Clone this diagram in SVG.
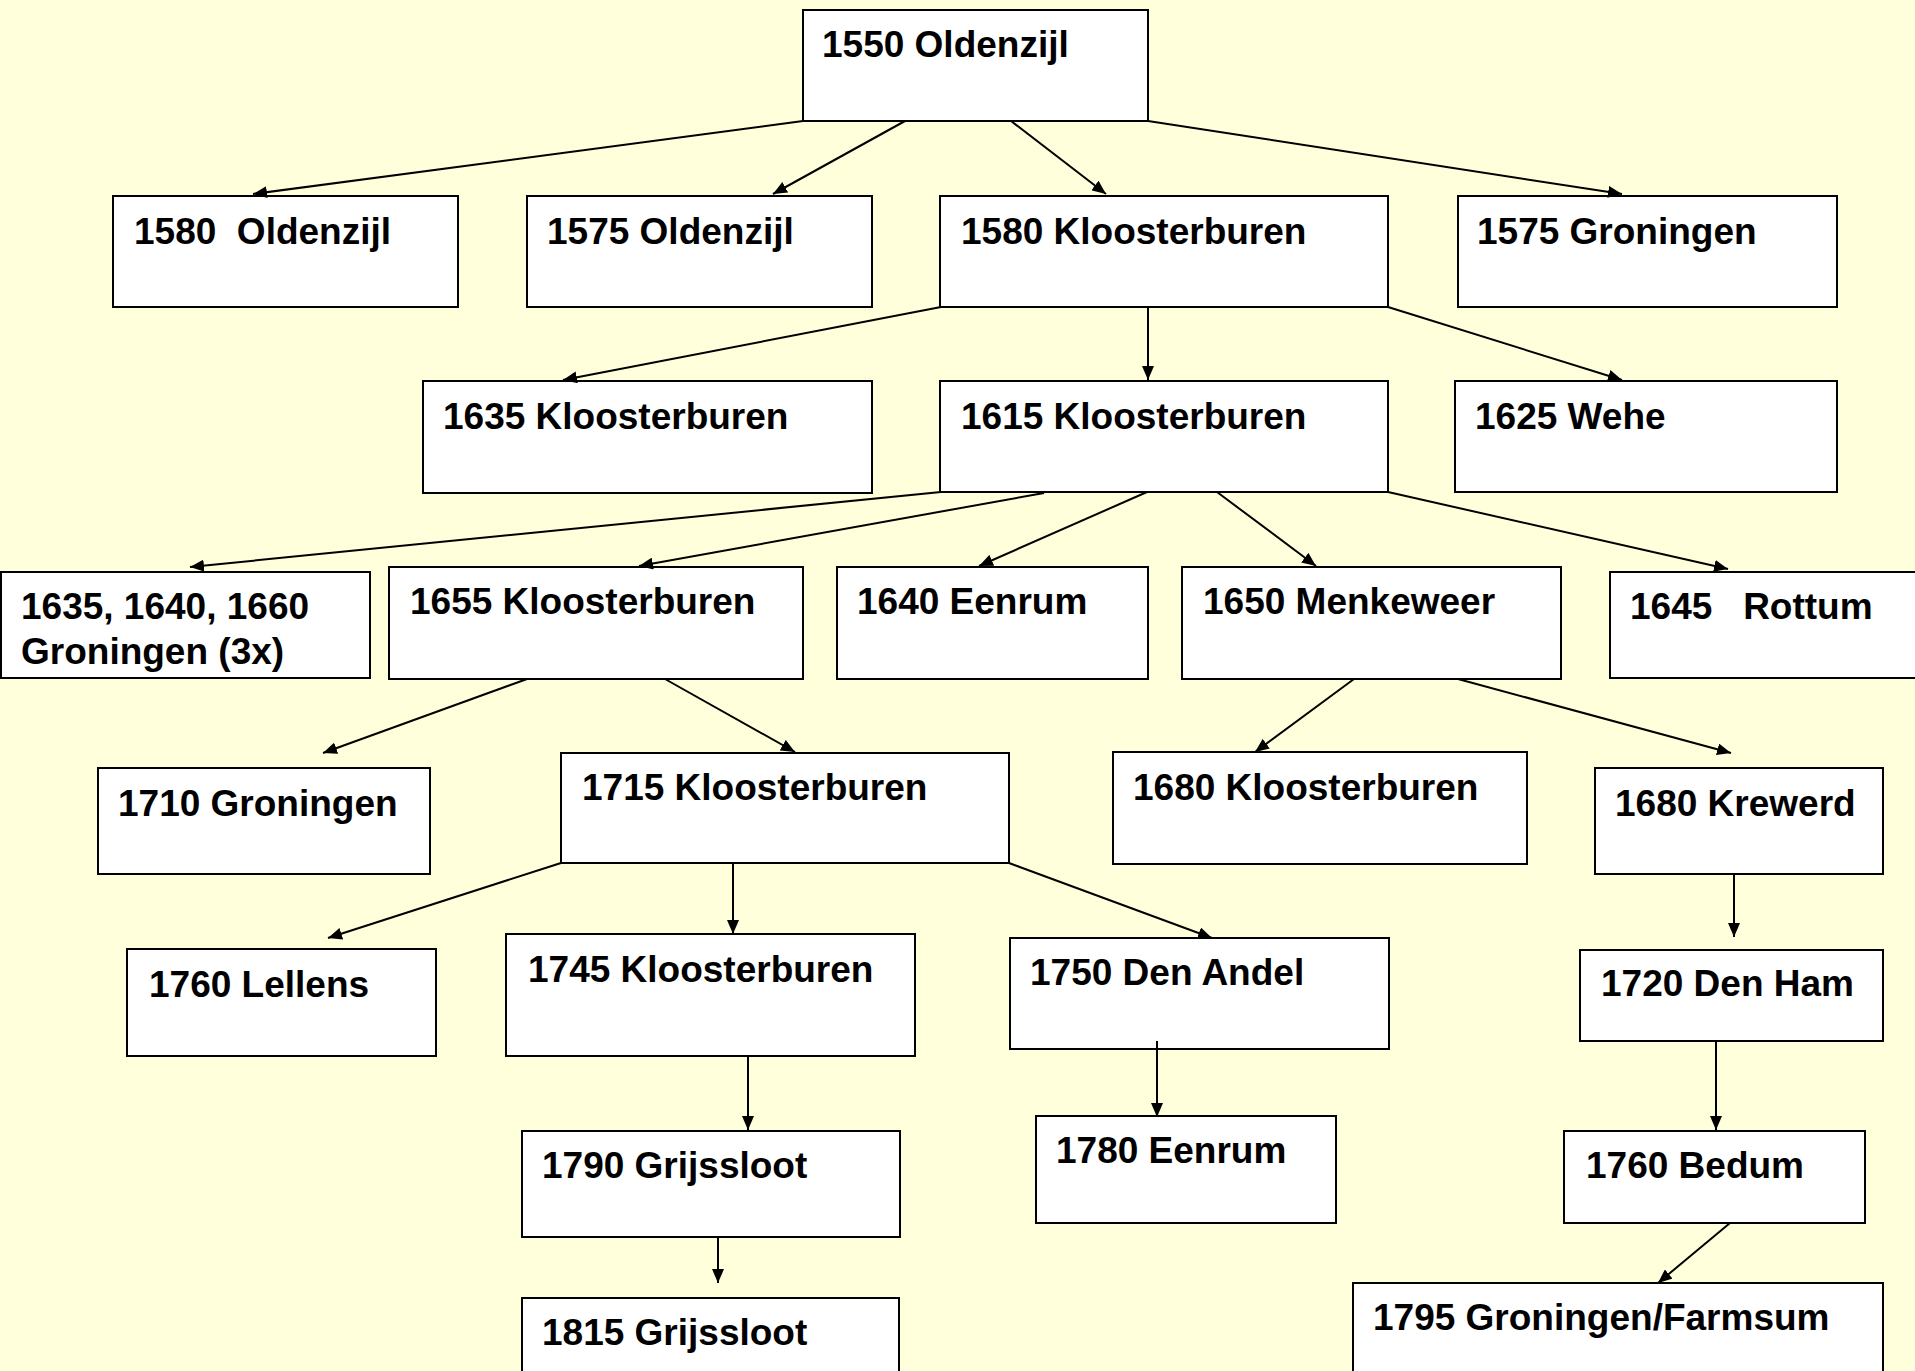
<svg xmlns="http://www.w3.org/2000/svg" width="1915" height="1371" viewBox="0 0 1915 1371">
<defs>
<style>
.box{fill:#fff;stroke:#000;stroke-width:2}
.t{font-family:"Liberation Sans",Arial,sans-serif;font-weight:bold;font-size:37px;fill:#000;white-space:pre}
.c{stroke:#000;stroke-width:2;fill:none;marker-end:url(#ah)}
</style>
<marker id="ah" markerUnits="userSpaceOnUse" markerWidth="14" markerHeight="12" viewBox="0 0 14 12" refX="14" refY="6" orient="auto">
<path d="M0,0 L14,6 L0,12 z" fill="#000"/>
</marker>
</defs>
<rect width="1915" height="1371" fill="#FFFFDB"/>
<g id="nodes">
<g id="n1550"><rect class="box" x="803" y="10" width="345" height="111"/><text class="t" x="822" y="56.5">1550 Oldenzijl</text></g>
<g id="n1580o"><rect class="box" x="113" y="196" width="345" height="111"/><text class="t" x="134" y="243.5" xml:space="preserve">1580  Oldenzijl</text></g>
<g id="n1575o"><rect class="box" x="527" y="196" width="345" height="111"/><text class="t" x="547" y="243.5">1575 Oldenzijl</text></g>
<g id="n1580k"><rect class="box" x="940" y="196" width="448" height="111"/><text class="t" x="961" y="243.5">1580 Kloosterburen</text></g>
<g id="n1575g"><rect class="box" x="1458" y="196" width="379" height="111"/><text class="t" x="1477" y="243.5">1575 Groningen</text></g>
<g id="n1635k"><rect class="box" x="423" y="381" width="449" height="112"/><text class="t" x="443" y="428.5">1635 Kloosterburen</text></g>
<g id="n1615k"><rect class="box" x="940" y="381" width="448" height="111"/><text class="t" x="961" y="428.5">1615 Kloosterburen</text></g>
<g id="n1625w"><rect class="box" x="1455" y="381" width="382" height="111"/><text class="t" x="1475" y="428.5">1625 Wehe</text></g>
<g id="n1635g"><rect class="box" x="1" y="572" width="369" height="106"/><text class="t" x="21" y="618.5">1635, 1640, 1660</text><text class="t" x="21" y="663.5">Groningen (3x)</text></g>
<g id="n1655k"><rect class="box" x="389" y="567" width="414" height="112"/><text class="t" x="410" y="613.5">1655 Kloosterburen</text></g>
<g id="n1640e"><rect class="box" x="837" y="567" width="311" height="112"/><text class="t" x="857" y="613.5">1640 Eenrum</text></g>
<g id="n1650m"><rect class="box" x="1182" y="567" width="379" height="112"/><text class="t" x="1203" y="613.5">1650 Menkeweer</text></g>
<g id="n1645r"><rect class="box" x="1610" y="572" width="320" height="106"/><text class="t" x="1630" y="618.5" xml:space="preserve">1645   Rottum</text></g>
<g id="n1710g"><rect class="box" x="98" y="768" width="332" height="106"/><text class="t" x="118" y="815.5">1710 Groningen</text></g>
<g id="n1715k"><rect class="box" x="561" y="753" width="448" height="110"/><text class="t" x="582" y="799.5">1715 Kloosterburen</text></g>
<g id="n1680k"><rect class="box" x="1113" y="752" width="414" height="112"/><text class="t" x="1133" y="799.5">1680 Kloosterburen</text></g>
<g id="n1680kr"><rect class="box" x="1595" y="768" width="288" height="106"/><text class="t" x="1615" y="815.5">1680 Krewerd</text></g>
<g id="n1760l"><rect class="box" x="127" y="949" width="309" height="107"/><text class="t" x="149" y="996.5">1760 Lellens</text></g>
<g id="n1745k"><rect class="box" x="506" y="934" width="409" height="122"/><text class="t" x="528" y="981.5">1745 Kloosterburen</text></g>
<g id="n1750a"><rect class="box" x="1010" y="938" width="379" height="111"/><text class="t" x="1030" y="984.5">1750 Den Andel</text></g>
<g id="n1720h"><rect class="box" x="1580" y="950" width="303" height="91"/><text class="t" x="1601" y="995.5">1720 Den Ham</text></g>
<g id="n1790g"><rect class="box" x="522" y="1131" width="378" height="106"/><text class="t" x="542" y="1177.5">1790 Grijssloot</text></g>
<g id="n1780e"><rect class="box" x="1036" y="1116" width="300" height="107"/><text class="t" x="1056" y="1162.5">1780 Eenrum</text></g>
<g id="n1760b"><rect class="box" x="1564" y="1131" width="301" height="92"/><text class="t" x="1586" y="1177.5">1760 Bedum</text></g>
<g id="n1815g"><rect class="box" x="522" y="1298" width="377" height="100"/><text class="t" x="542" y="1344.5">1815 Grijssloot</text></g>
<g id="n1795g"><rect class="box" x="1353" y="1283" width="530" height="110"/><text class="t" x="1373" y="1329.5">1795 Groningen/Farmsum</text></g>
</g>
<g id="connectors">
<line class="c" x1="803" y1="121" x2="253" y2="194"/>
<line class="c" x1="905" y1="121" x2="773" y2="194"/>
<line class="c" x1="1011" y1="121" x2="1106" y2="194"/>
<line class="c" x1="1148" y1="121" x2="1622" y2="194"/>
<line class="c" x1="941" y1="307" x2="563" y2="380"/>
<line class="c" x1="1148" y1="307" x2="1148" y2="380"/>
<line class="c" x1="1388" y1="307" x2="1622" y2="380"/>
<line class="c" x1="941" y1="492" x2="190" y2="567"/>
<line class="c" x1="1044" y1="493" x2="639" y2="566"/>
<line class="c" x1="1147" y1="492" x2="979" y2="566"/>
<line class="c" x1="1217" y1="492" x2="1316" y2="566"/>
<line class="c" x1="1388" y1="492" x2="1728" y2="569"/>
<line class="c" x1="527" y1="679" x2="323" y2="753"/>
<line class="c" x1="665" y1="679" x2="795" y2="752"/>
<line class="c" x1="1354" y1="679" x2="1255" y2="752"/>
<line class="c" x1="1458" y1="679" x2="1731" y2="753"/>
<line class="c" x1="561" y1="863" x2="328" y2="938"/>
<line class="c" x1="733" y1="863" x2="733" y2="934"/>
<line class="c" x1="1009" y1="863" x2="1212" y2="938"/>
<line class="c" x1="1734" y1="874" x2="1734" y2="937"/>
<line class="c" x1="748" y1="1056" x2="748" y2="1130"/>
<line class="c" x1="1157" y1="1041" x2="1157" y2="1117"/>
<line class="c" x1="1716" y1="1041" x2="1716" y2="1130"/>
<line class="c" x1="718" y1="1237" x2="718" y2="1283"/>
<line class="c" x1="1730" y1="1223" x2="1658" y2="1283"/>
</g>
</svg>
